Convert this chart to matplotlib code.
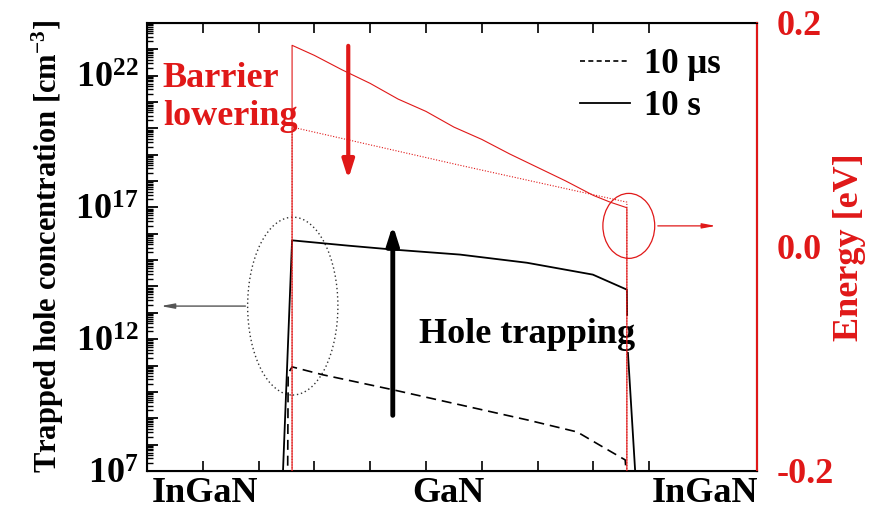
import numpy as np
import matplotlib
matplotlib.use('Agg')
import matplotlib.pyplot as plt
from matplotlib.patches import Ellipse
from matplotlib.ticker import LogLocator, FixedLocator, NullFormatter

plt.rcParams['font.family'] = 'Liberation Serif'
plt.rcParams['font.weight'] = 'bold'
plt.rcParams['mathtext.fontset'] = 'custom'
plt.rcParams['mathtext.rm'] = 'Liberation Serif:bold'
plt.rcParams['mathtext.bf'] = 'Liberation Serif:bold'
plt.rcParams['mathtext.it'] = 'Liberation Serif:bold'

RED = '#e01818'
FS = 26

# trapped hole concentration, log10 [cm^-3], vs position
x_10s = [2.43, 2.60, 3.60, 4.41, 5.61, 6.81, 7.99, 8.60, 8.61, 8.76]
logn_10s = [6.6, 15.75, 15.55, 15.4, 15.21, 14.9, 14.45, 13.88, 11.8, 6.6]

x_10us = [2.52, 2.53, 2.60, 3.15, 4.41, 5.61, 6.81, 7.71, 8.17, 8.57, 8.60]
logn_10us = [6.6, 10.7, 10.95, 10.65, 10.08, 9.51, 8.94, 8.48, 7.91, 7.42, 6.6]

# band energy [eV]
x_E = [0.0, 2.60, 2.60, 3.0, 3.5, 4.0, 4.5, 5.0, 5.5, 6.0, 6.5, 7.0, 7.5, 8.0, 8.3,
       8.60, 8.60, 11.0]
E_10s = [-0.3, -0.3, 0.180, 0.171, 0.158, 0.146, 0.132, 0.121, 0.107, 0.096, 0.083,
         0.071, 0.059, 0.046, 0.040, 0.035, -0.3, -0.3]
x_E0 = [0.0, 2.60, 2.60, 5.60, 8.60, 8.60, 11.0]
E_10us = [-0.3, -0.3, 0.107, 0.073, 0.040, -0.3, -0.3]

region_pos = [1.04, 5.41, 10.0]
region_labels = ['InGaN', 'GaN', 'InGaN']

fig = plt.figure(figsize=(8.75, 5.09), dpi=100)
ax = fig.add_axes([0.168, 0.0747, 0.697, 0.8803])

ax.plot(x_10us, 10.0 ** np.array(logn_10us), color='black', lw=1.2, ls=(0, (6, 3.5)), label='10 \u03bcs')
ax.plot(x_10s, 10.0 ** np.array(logn_10s), color='black', lw=1.3, label='10 s')
ax.set_yscale('log')
ax.set_ylim(1e7, 1e24)
ax.set_xlim(0, 10.93)

ax.yaxis.set_major_locator(LogLocator(base=10, numticks=30))
ax.yaxis.set_minor_locator(LogLocator(base=10, subs=np.arange(2, 10), numticks=30))
ax.yaxis.set_minor_formatter(NullFormatter())
ax.yaxis.set_major_formatter(plt.FuncFormatter(
    lambda v, p: r'$10^{%d}$' % round(np.log10(v)) if round(np.log10(v)) in (7, 12, 17, 22) else ''))
ax.tick_params(axis='y', which='major', direction='in', length=8, width=1.3, left=True, right=True,
               labelsize=FS, pad=6)
ax.tick_params(axis='y', which='minor', direction='in', length=4.5, width=1, left=True, right=True)

ax.xaxis.set_major_locator(FixedLocator(region_pos))
ax.set_xticklabels(region_labels)
ax.xaxis.set_minor_locator(FixedLocator(np.arange(1, 11)))
ax.tick_params(axis='x', which='major', length=0, labelsize=FS, pad=4)
ax.tick_params(axis='x', which='minor', direction='in', length=7, width=1.2, top=True, bottom=True)

ax.set_ylabel(r'Trapped hole concentration [cm$^{-3}$]', fontsize=22, fontweight='bold')
ax.yaxis.set_label_coords(-0.132, 0.5)

for s in ax.spines.values():
    s.set_linewidth(1.5)

ax2 = ax.twinx()
ax2.plot(x_E, E_10s, color=RED, lw=0.8)
ax2.plot(x_E0, E_10us, color=RED, lw=0.8, ls=(0, (1, 1.5)))
ax2.set_ylim(-0.2, 0.2)
ax2.set_yticks([-0.2, 0.0, 0.2])
ax2.set_yticklabels(['-0.2', '0.0', '0.2'])
ax2.tick_params(axis='y', length=0, labelsize=FS, labelcolor=RED, pad=14)
ax2.spines['right'].set_color(RED)
ax2.spines['right'].set_linewidth(1.5)
ax2.set_ylabel('Energy [eV]', fontsize=26, color=RED, fontweight='bold')
ax2.yaxis.set_label_coords(1.125, 0.5)

leg = ax.legend(loc='upper left', bbox_to_anchor=(0.71, 0.943), frameon=False, fontsize=25,
                handlelength=1.45, handletextpad=0.4, labelspacing=0.25, borderpad=0, borderaxespad=0)
leg.get_lines()[0].set_linestyle((0, (3, 2)))

# annotations
ax.text(0.026, 0.912, 'Barrier\nlowering', transform=ax.transAxes, color=RED, fontsize=FS,
        fontweight='bold', va='top', ha='left', linespacing=1.2)
ax.annotate('', xy=(0.330, 0.645), xytext=(0.330, 0.955), xycoords='axes fraction',
            arrowprops=dict(arrowstyle='-|>,head_width=0.35,head_length=1.1', color=RED, lw=3))
ax.annotate('', xy=(0.403, 0.555), xytext=(0.403, 0.118), xycoords='axes fraction',
            arrowprops=dict(arrowstyle='-|>,head_width=0.35,head_length=1.1', color='black', lw=3.5))
ax.text(0.446, 0.286, 'Hole trapping', transform=ax.transAxes, color='black', fontsize=FS,
        fontweight='bold', va='baseline', ha='left',
        bbox=dict(facecolor='white', edgecolor='none', pad=1))

ax.add_patch(Ellipse((0.239, 0.368), 0.148, 0.397, transform=ax.transAxes, fill=False,
                     ls=(0, (1, 2)), lw=1, edgecolor='#333333'))
ax.annotate('', xy=(0.018, 0.368), xytext=(0.166, 0.368), xycoords='axes fraction',
            arrowprops=dict(arrowstyle='-|>,head_width=0.15,head_length=0.8', color='#555555', lw=1))
ax.add_patch(Ellipse((0.790, 0.547), 0.085, 0.145, transform=ax.transAxes, fill=False,
                     lw=0.9, edgecolor=RED))
ax.annotate('', xy=(0.937, 0.547), xytext=(0.833, 0.547), xycoords='axes fraction',
            annotation_clip=False,
            arrowprops=dict(arrowstyle='-|>,head_width=0.15,head_length=0.8', color=RED, lw=0.9))

fig.savefig('out.png', dpi=100)
